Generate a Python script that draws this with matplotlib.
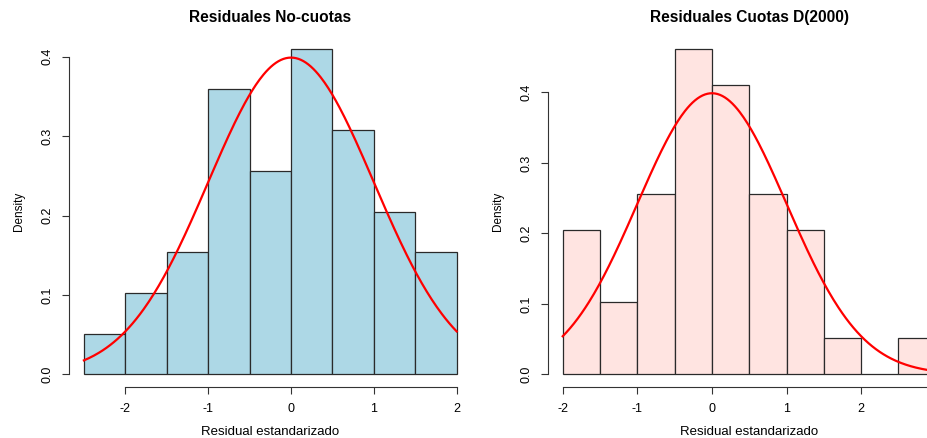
import numpy as np
import matplotlib
matplotlib.use("Agg")
import matplotlib.pyplot as plt

plt.rcParams['font.family'] = ['Liberation Sans', 'DejaVu Sans']

# bin edges and densities
edges_nc = [-2.5, -2.0, -1.5, -1.0, -0.5, 0.0, 0.5, 1.0, 1.5, 2.0]
dens_nc = [0.051, 0.103, 0.154, 0.359, 0.256, 0.410, 0.308, 0.205, 0.154]

edges_c = [-2.0, -1.5, -1.0, -0.5, 0.0, 0.5, 1.0, 1.5, 2.0, 2.5, 3.0]
dens_c = [0.205, 0.103, 0.256, 0.462, 0.410, 0.256, 0.205, 0.051, 0.0, 0.051]

title_nc = "Residuales No-cuotas"
title_c = "Residuales Cuotas D(2000)"
xlabel = "Residual estandarizado"
ylabel = "Density"
xticks_nc = [-2, -1, 0, 1, 2]
xticks_c = [-2, -1, 0, 1, 2]   # the "3" tick falls outside the picture
yticks_nc = [0.0, 0.1, 0.2, 0.3, 0.4]
yticks_c = [0.0, 0.1, 0.2, 0.3, 0.4]


def dnorm(x):
    return np.exp(-x ** 2 / 2) / np.sqrt(2 * np.pi)


def r_hist(ax, edges, dens, color, title, xticks, yticks):
    edges = np.asarray(edges)
    left = edges[:-1]
    width = np.diff(edges)
    ax.bar(left, dens, width=width, align='edge', color=color,
           edgecolor='#2a2a2a', linewidth=0.9)
    xs = np.linspace(edges[0], edges[-1], 300)
    ax.plot(xs, dnorm(xs), color='red', lw=1.6)

    # R style limits: 4% extension
    rng = edges[-1] - edges[0]
    ax.set_xlim(edges[0] - 0.04 * rng, edges[-1] + 0.04 * rng)
    ymax = max(dens)
    ax.set_ylim(-0.04 * ymax, 1.04 * ymax)

    for s in ['top', 'right']:
        ax.spines[s].set_visible(False)
    ax.spines['bottom'].set_bounds(xticks[0], max(xticks[-1], np.floor(edges[-1])))
    ax.spines['left'].set_bounds(yticks[0], yticks[-1])
    for s in ['bottom', 'left']:
        ax.spines[s].set_linewidth(0.8)
        ax.spines[s].set_color('#333333')

    ax.set_xticks(xticks)
    ax.set_xticklabels([f"{t:g}" for t in xticks])
    ax.set_yticks(yticks)
    ax.set_yticklabels([f"{t:.1f}" for t in yticks], rotation=90, va='center')
    ax.tick_params(axis='both', length=5, width=0.8, color='#333333',
                   labelsize=9, pad=6)
    ax.set_title(title, fontsize=11.2, fontweight='bold', pad=10)
    ax.set_xlabel(xlabel, fontsize=9.5, labelpad=8)
    ax.set_ylabel(ylabel, fontsize=8.5, labelpad=12)


fig = plt.figure(figsize=(9.28, 4.38), dpi=100)
# right panel runs past the picture edge, as in the reference crop
ax1 = fig.add_axes([69 / 928, 50.7 / 438, 402.6 / 928, 351.5 / 438])
ax2 = fig.add_axes([547.8 / 928, 50.7 / 438, 402.9 / 928, 351.5 / 438])

r_hist(ax1, edges_nc, dens_nc, '#ADD8E6', title_nc, xticks_nc, yticks_nc)
r_hist(ax2, edges_c, dens_c, '#FFE4E1', title_c, xticks_c, yticks_c)

fig.savefig("out.png", dpi=100)
